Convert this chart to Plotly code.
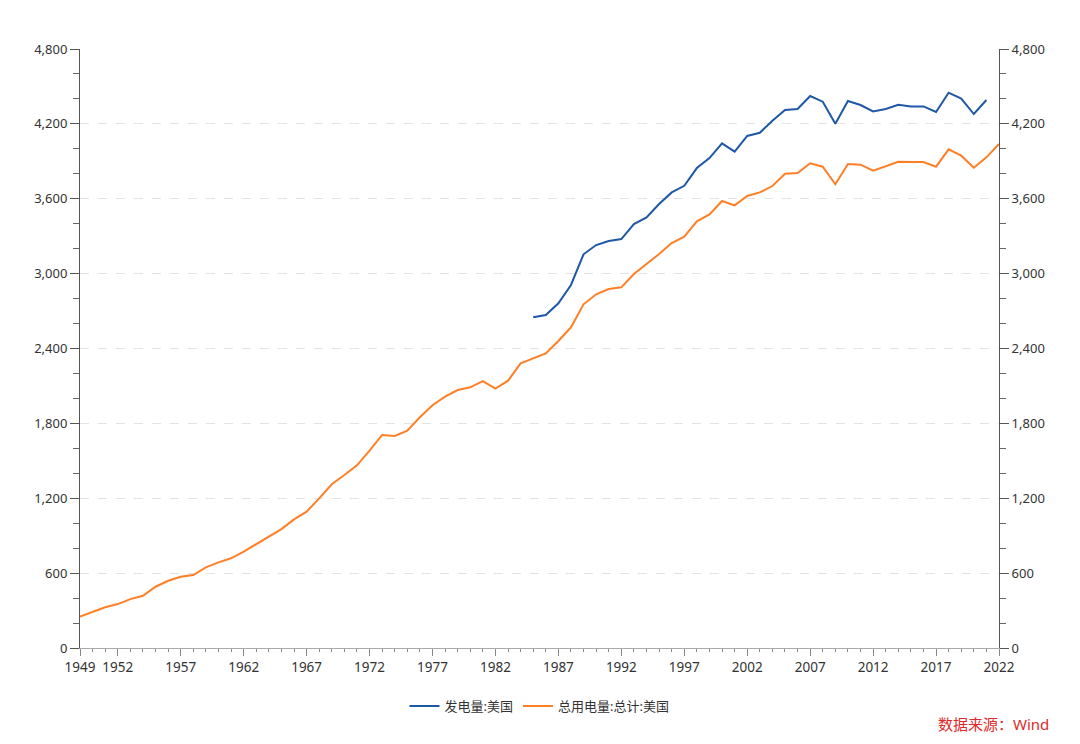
import plotly.graph_objects as go

years_gen = list(range(1985, 2022))
gen_us = [2650, 2668, 2762, 2909, 3155, 3229, 3261, 3277, 3397, 3451,
          3558, 3651, 3704, 3846, 3926, 4044, 3977, 4103, 4129, 4225,
          4311, 4319, 4423, 4378, 4201, 4383, 4351, 4300, 4319, 4353,
          4340, 4340, 4295, 4450, 4402, 4279, 4391]

years_use = list(range(1949, 2023))
use_us = [251, 291, 326, 352, 392, 419, 491, 539, 571, 585,
          646, 686, 719, 772, 833, 897, 953, 1031, 1092, 1199,
          1312, 1386, 1464, 1581, 1707, 1699, 1741, 1849, 1945, 2014,
          2067, 2089, 2139, 2078, 2142, 2281, 2318, 2361, 2460, 2570,
          2754, 2834, 2877, 2890, 2997, 3074, 3157, 3245, 3296, 3419,
          3475, 3582, 3547, 3622, 3651, 3702, 3801, 3806, 3884, 3857,
          3716, 3878, 3873, 3825, 3862, 3897, 3894, 3894, 3857, 3996,
          3945, 3849, 3932, 4039]

x_tickvals = [1949, 1952, 1957, 1962, 1967, 1972, 1977, 1982, 1987, 1992,
              1997, 2002, 2007, 2012, 2017, 2022]
y_tickvals = [0, 600, 1200, 1800, 2400, 3000, 3600, 4200, 4800]
y_ticktext = ["0", "600", "1,200", "1,800", "2,400", "3,000", "3,600", "4,200", "4,800"]

name_gen = "发电量:美国"
name_use = "总用电量:总计:美国"
source_text = "数据来源：Wind"

BLUE = "#1f58a6"
ORANGE = "#ff7f27"
FONT = "Noto Sans, Noto Sans CJK SC, sans-serif"

fig = go.Figure()
fig.add_trace(go.Scatter(x=years_gen, y=gen_us, name=name_gen, mode="lines",
                         line=dict(color=BLUE, width=2)))
fig.add_trace(go.Scatter(x=years_use, y=use_us, name=name_use, mode="lines",
                         line=dict(color=ORANGE, width=2), yaxis="y2"))

yax_common = dict(
    range=[0, 4800], tickmode="array", tickvals=y_tickvals, ticktext=y_ticktext,
    ticks="outside", ticklen=9, tickcolor="#555", showline=True, linecolor="#555",
    linewidth=1, zeroline=False,
    tickfont=dict(family=FONT, size=13, color="#333"),
    minor=dict(dtick=200, tick0=0, ticks="outside", ticklen=6, tickcolor="#666", showgrid=False),
)

fig.update_layout(
    width=1080, height=744,
    paper_bgcolor="white", plot_bgcolor="white",
    margin=dict(l=72, r=89, t=41, b=104),
    font=dict(family=FONT, size=13, color="#333"),
    xaxis=dict(
        range=[1949, 2022], tickmode="array", tickvals=x_tickvals,
        ticks="outside", ticklen=7, tickcolor="#888", showline=True, linecolor="#aaa",
        showgrid=False, zeroline=False,
        tickfont=dict(family=FONT, size=13.5, color="#333"),
        minor=dict(dtick=1, tick0=1949, ticks="outside", ticklen=3, tickcolor="#888"),
    ),
    yaxis=dict(**yax_common, showgrid=True, gridcolor="#e3e3e3", griddash="dash", gridwidth=1),
    yaxis2=dict(**yax_common, overlaying="y", side="right", showgrid=False),
    legend=dict(orientation="h", x=0.5, xanchor="center", y=-0.097, yanchor="middle",
                font=dict(family=FONT, size=13, color="#333"), itemwidth=30),
    showlegend=True,
    annotations=[dict(text=source_text, xref="paper", yref="paper",
                      x=1.0566, y=-0.127, xanchor="right", yanchor="middle",
                      showarrow=False, font=dict(family=FONT, size=15, color="#e0292b"))],
)

fig.write_html("out.html")
